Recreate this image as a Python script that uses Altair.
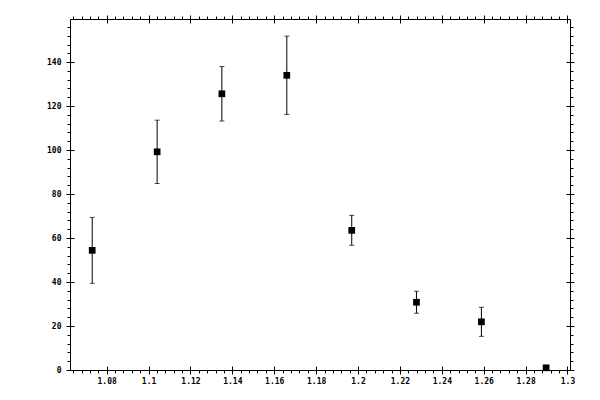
import altair as alt
import pandas as pd

# measured points (x, count, symmetric error)
energy = [1.0731, 1.1041, 1.1350, 1.1660, 1.1970, 1.2279, 1.2589, 1.2898]
counts = [54.4, 99.2, 125.6, 134.0, 63.5, 30.8, 21.9, 1.0]
errors = [15.0, 14.4, 12.4, 17.8, 6.8, 5.0, 6.6, 0.0]

x_major = [1.08, 1.1, 1.12, 1.14, 1.16, 1.18, 1.2, 1.22, 1.24, 1.26, 1.28, 1.3]
y_major = [0, 20, 40, 60, 80, 100, 120, 140]
x_minor = [round(1.064 + 0.004 * i, 3) for i in range(60)]
x_minor = [v for v in x_minor if v <= 1.3 and all(abs(v - m) > 1e-6 for m in x_major)]
y_minor = [v for v in range(4, 160, 4) if v % 20]

df = pd.DataFrame({"e": energy, "n": counts, "err": errors})
df["lo"] = df["n"] - df["err"]
df["hi"] = df["n"] + df["err"]

xs = alt.Scale(domain=[1.0625, 1.3012], nice=False, zero=False)
ys = alt.Scale(domain=[0, 159.6], nice=False)


def ax(orient, values, size, offset=0, labels=False, **kw):
    return alt.Axis(orient=orient, values=values, tickSize=size, offset=offset,
                    labels=labels, domain=False, grid=False, title=None,
                    tickColor="black", labelFlush=False, labelOverlap=False, **kw)


bars = alt.Chart(df).mark_rule(color="black").encode(
    x=alt.X("e:Q", scale=xs,
            axis=ax("bottom", x_major, 8, -4, labels=True, labelPadding=3,
                    labelExpr="'' + datum.value")),
    y=alt.Y("lo:Q", scale=ys, axis=ax("left", y_major, 8, -4, labels=True, labelPadding=5)),
    y2="hi:Q",
)

cap_top = alt.Chart(df).mark_tick(orient="horizontal", size=5, thickness=1, color="black").encode(
    x=alt.X("e:Q", scale=xs, axis=ax("bottom", x_minor, 3)),
    y=alt.Y("hi:Q", scale=ys, axis=ax("left", y_minor, 3)),
)

cap_bot = alt.Chart(df).mark_tick(orient="horizontal", size=5, thickness=1, color="black").encode(
    x=alt.X("e:Q", scale=xs, axis=ax("top", x_major, 8, -4)),
    y=alt.Y("lo:Q", scale=ys, axis=ax("right", y_major, 8, -4)),
)

pts = alt.Chart(df).mark_square(size=45, color="black", opacity=1).encode(
    x=alt.X("e:Q", scale=xs, axis=ax("top", x_minor, 3)),
    y=alt.Y("n:Q", scale=ys, axis=ax("right", y_minor, 3)),
)

chart = alt.layer(bars, cap_top, cap_bot, pts).resolve_axis(
    x="independent", y="independent"
).properties(
    width=500, height=351,
    autosize=alt.AutoSizeParams(type="none"),
    padding={"left": 62, "top": 11, "right": 14, "bottom": 22},
).configure_view(
    stroke="black", strokeWidth=1
).configure_axis(
    labelFont="DejaVu Sans Mono", labelFontSize=8, labelFontWeight="bold",
    labelColor="black", tickWidth=1
)

chart.save("out.html", embed_options={"renderer": "svg", "actions": False})
